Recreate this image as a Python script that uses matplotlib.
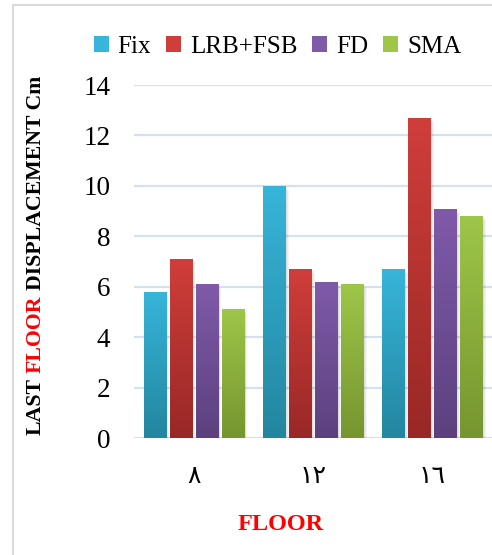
import numpy as np
import matplotlib
matplotlib.use("Agg")
import matplotlib.pyplot as plt
from matplotlib.patches import Patch, Rectangle
from matplotlib.colors import LinearSegmentedColormap

# displacement of the last floor (cm) per building height
floors = ["٨", "١٢", "١٦"]
series = ["Fix", "LRB+FSB", "FD", "SMA"]
fix = [5.8, 10.0, 6.7]
lrb_fsb = [7.1, 6.7, 12.7]
fd = [6.1, 6.2, 9.1]
sma = [5.1, 6.1, 8.8]
yticks = [0, 2, 4, 6, 8, 10, 12, 14]

# (top colour, bottom colour) for each series
shades = [("#37b5da", "#23869f"),
          ("#d03e3a", "#982826"),
          ("#7f5aa9", "#5c417e"),
          ("#9ec649", "#76952f")]

plt.rcParams["font.family"] = ["Liberation Serif", "DejaVu Sans"]

W, H = 492, 555
fig = plt.figure(figsize=(W / 100, H / 100), dpi=100)
ax = fig.add_axes([134 / W, 1 - 438 / H, 358 / W, 353 / H])

x = np.arange(len(floors))
pitch = 0.218
width = 0.185
values = [fix, lrb_fsb, fd, sma]

for i, (name, vals) in enumerate(zip(series, values)):
    pos = x + (i - 1.5) * pitch
    # soft grey shadow to the right of every bar
    for k in range(1, 5):
        ax.bar(pos + k * 0.0075, vals, width, bottom=-0.04 * k, color="#000000",
               alpha=0.045, linewidth=0, zorder=2)
    bars = ax.bar(pos, vals, width, color=shades[i][1], linewidth=0, zorder=3,
                  label=name)
    cmap = LinearSegmentedColormap.from_list(name, [shades[i][1], shades[i][0]])
    grad = np.linspace(0, 1, 256).reshape(-1, 1)
    for b in bars:
        x0, y0 = b.get_x(), b.get_y()
        img = ax.imshow(grad, cmap=cmap, origin="lower", aspect="auto",
                        extent=[x0, x0 + b.get_width(), y0, y0 + b.get_height()],
                        zorder=4)
        img.set_clip_path(b)

ax.set_xlim(-0.5, 2.5)
ax.set_ylim(0, 14)
ax.set_yticks(yticks)
ax.set_yticklabels([str(t) for t in yticks], fontsize=19.5)
ax.set_xticks(x)
ax.set_xticklabels(floors, fontsize=18, family=["DejaVu Sans"])
ax.tick_params(axis="both", length=0)
ax.tick_params(axis="y", pad=17)
ax.tick_params(axis="x", pad=19)
ax.grid(axis="y", color="#d5e0f1", linewidth=1.6, zorder=0)
ax.set_axisbelow(True)
for s in ["top", "right", "left", "bottom"]:
    ax.spines[s].set_visible(False)

# x-axis title
fig.text(281 / W, 1 - 524 / H, "FLOOR", color="#ff0000", fontsize=17.5,
         fontweight="bold", ha="center", va="center")

# y-axis title with the word FLOOR in red
parts = [("LAST", "black"), ("FLOOR", "#ff0000"), ("DISPLACEMENT Cm", "black")]
full = "LAST FLOOR DISPLACEMENT Cm"
renderer = fig.canvas.get_renderer()
ylab_x = 36 / W
ylab_y0 = 1 - 435 / H


def text_len(s):
    t = fig.text(0, 0, s, fontsize=15.7, fontweight="bold", rotation=90)
    h = t.get_window_extent(renderer).height
    t.remove()
    return h


full_len = text_len(full)
offsets = [0,
           text_len("LAST FLOOR") - text_len("FLOOR"),
           full_len - text_len("DISPLACEMENT Cm")]
for (s, c), off in zip(parts, offsets):
    fig.text(ylab_x, ylab_y0 + off / H, s, color=c, fontsize=15.7,
             fontweight="bold", rotation=90, ha="center", va="bottom")

# legend with square keys
handles = [Patch(facecolor=sh[0], edgecolor="none") for sh in shades]
fig.legend(handles, series, loc="center", bbox_to_anchor=(0.564, 1 - 47 / H),
           ncol=4, frameon=False, fontsize=18, handlelength=0.6,
           handleheight=0.6, handletextpad=0.35, columnspacing=0.6,
           borderpad=0)

# light grey chart border
fig.patches.append(Rectangle((13 / W, -0.1), 1.2, 1.1 - 5 / H,
                             transform=fig.transFigure, fill=False,
                             edgecolor="#d9d9d9", linewidth=1.5))

fig.savefig("out.png", dpi=100)
